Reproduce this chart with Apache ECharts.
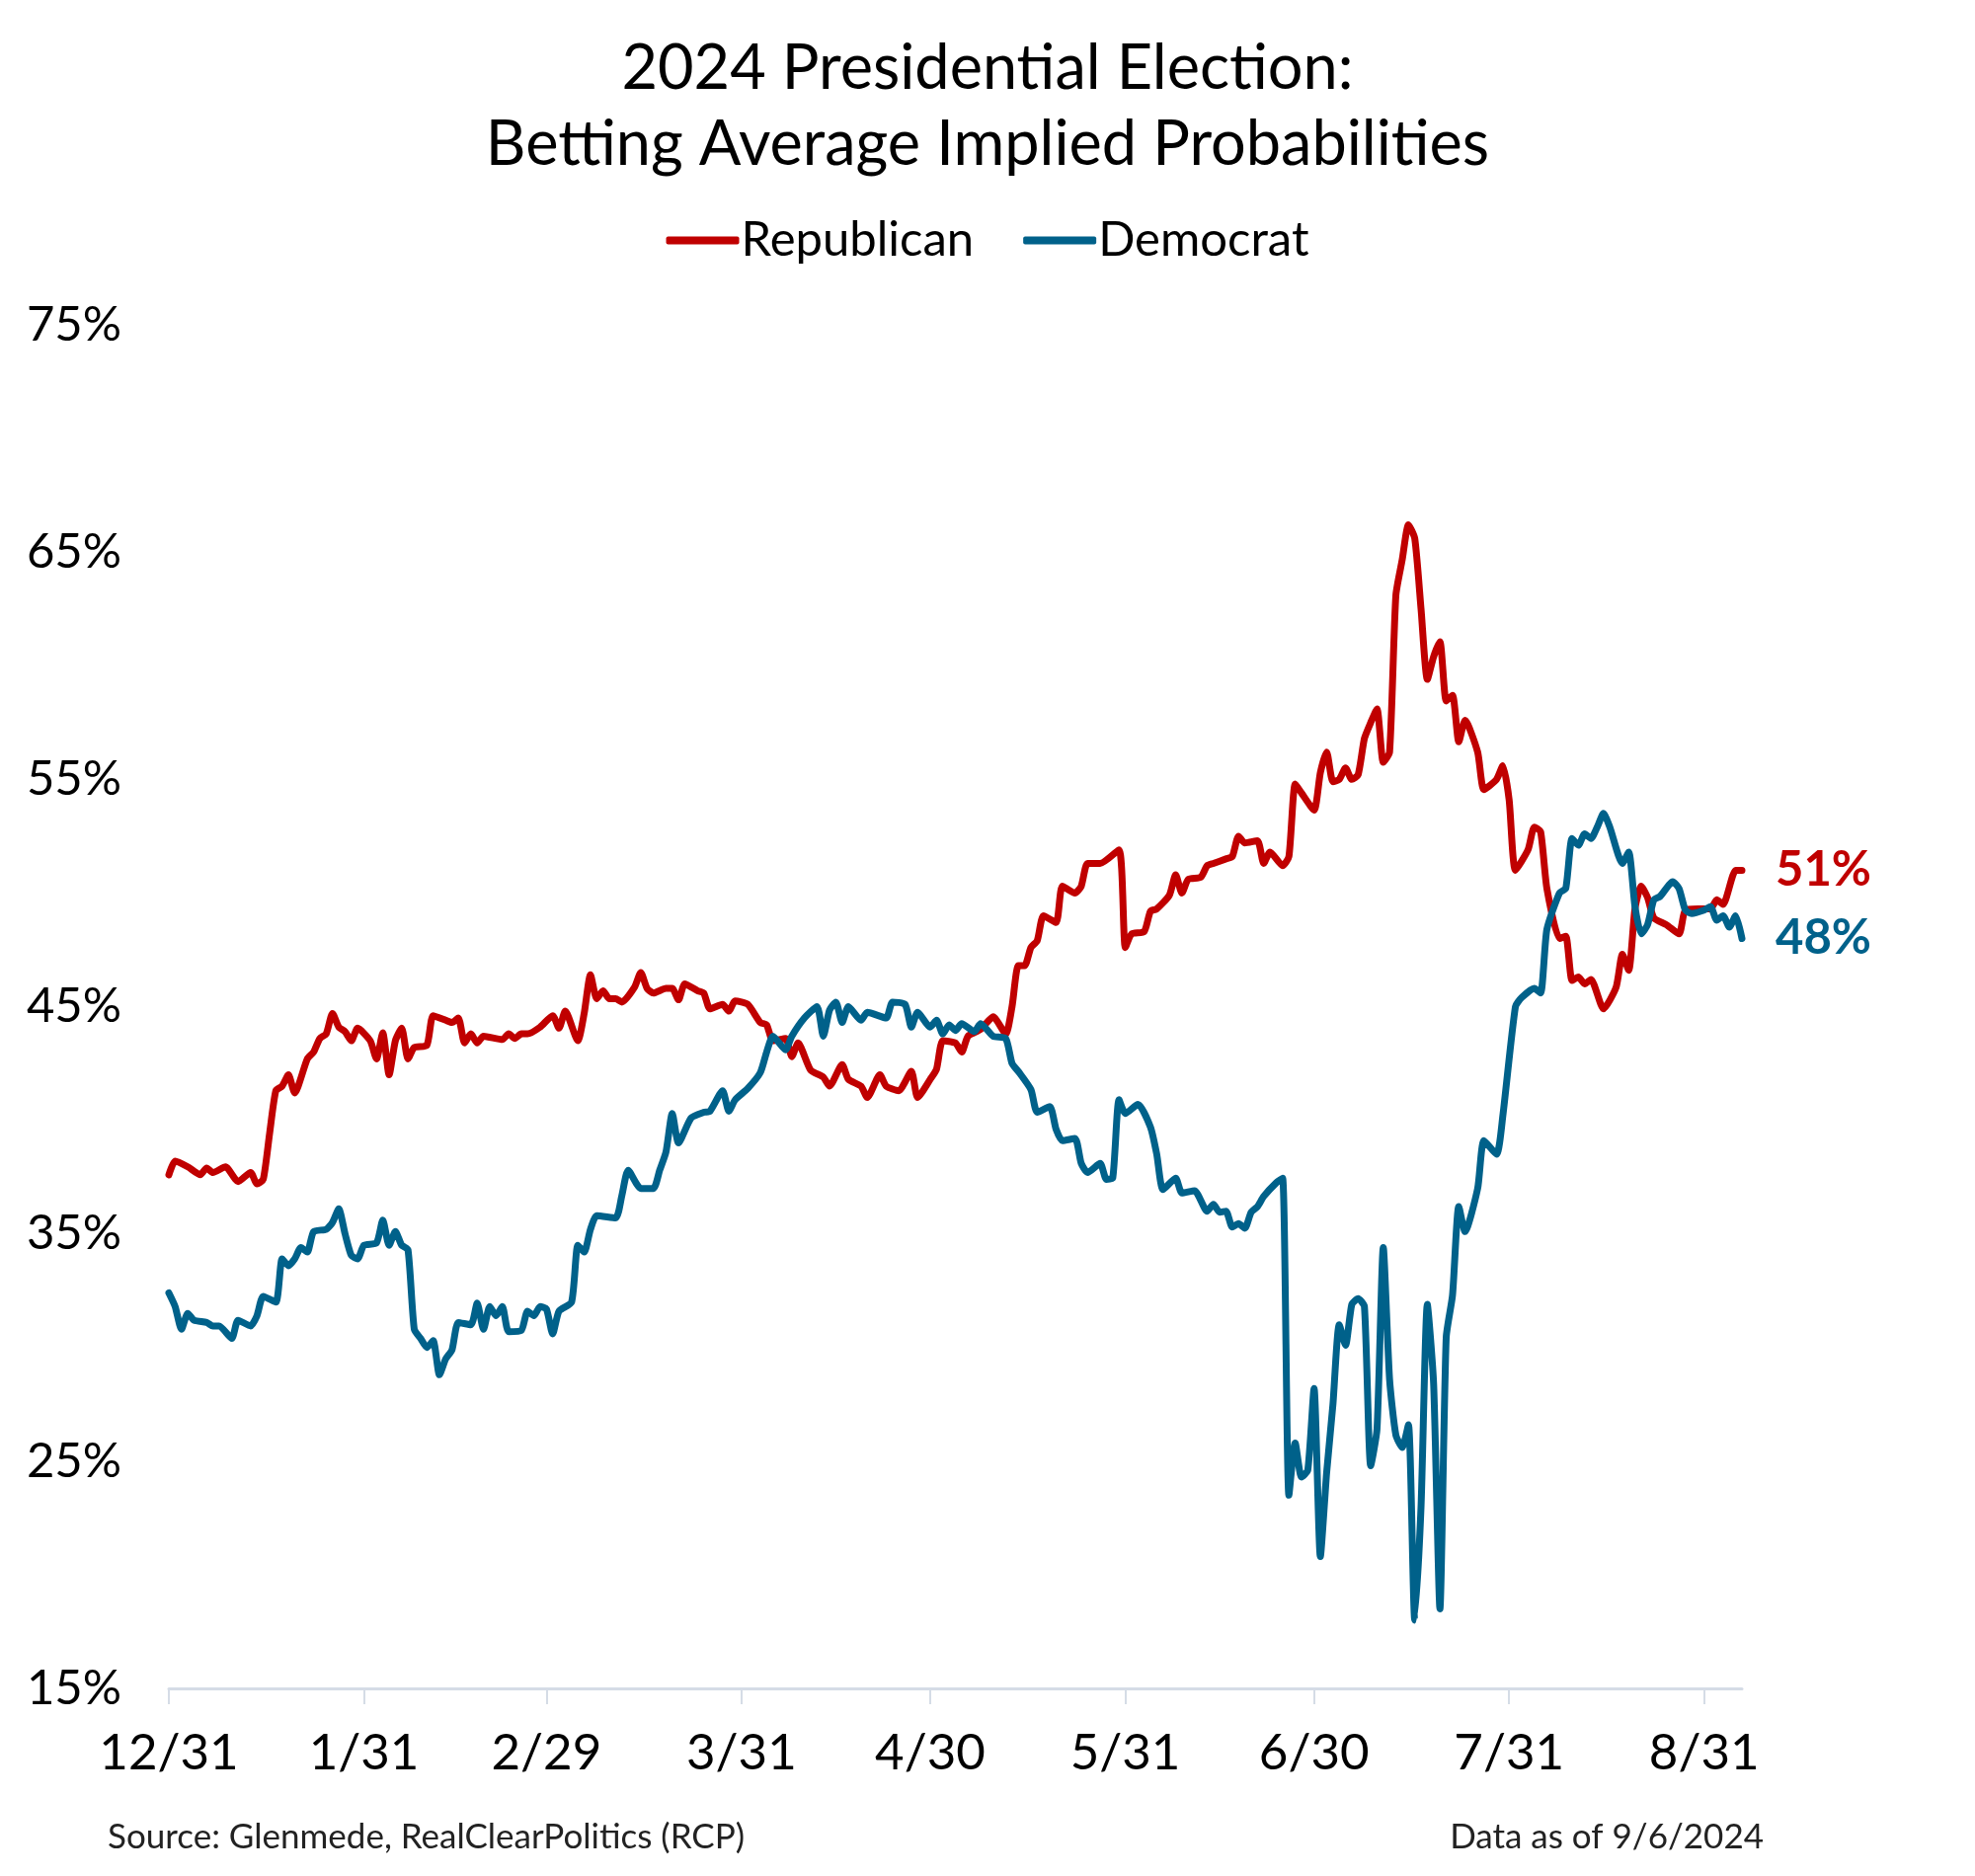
<!DOCTYPE html>
<html><head><meta charset="utf-8">
<script src="https://cdn.jsdelivr.net/npm/echarts@6/dist/echarts.min.js"></script>
<style>html,body{margin:0;padding:0;background:#fff}#c{width:2000px;height:1900px}</style>
</head><body><div id="c"></div>
<script>
// x positions are day offsets from 12/31/2023 (0 = 12/31, 250 = 9/6)
const dayCount = 251;
const tickLabels = ['12/31','1/31','2/29','3/31','4/30','5/31','6/30','7/31','8/31'];
const seriesNames = ['Republican', 'Democrat'];

const repDays = [0,1,3,5,6,7,9,11,13,14,15,16,17,18,19,20,22,23,24,25,26,27,28,29,30,32,33,34,35,36,37,38,39,41,42,44,45,46,47,48,49,50,53,54,55,56,57,59,61,62,63,65,66,67,68,69,70,71,72,74,75,76,77,79,80,81,82,84,85,86,88,89,90,92,94,95,96,98,99,100,102,104,105,107,108,110,111,113,114,116,118,119,121,122,123,125,126,127,129,131,133,134,135,136,137,138,139,141,142,144,145,146,148,151,152,153,155,156,157,159,160,161,162,164,165,166,168,169,170,171,173,174,175,177,178,179,180,182,183,184,185,186,187,188,189,190,191,192,193,194,195,196,197,198,199,200,201,202,203,204,205,206,208,209,211,212,213,214,216,217,218,219,221,222,223,224,225,226,228,230,231,232,233,234,235,236,238,240,241,243,245,246,247,249,250];
const repValues = [37.6,38.2,37.95,37.6,37.9,37.7,37.95,37.3,37.7,37.2,37.4,39.4,41.3,41.5,42.0,41.2,42.7,43.0,43.6,43.8,44.7,44.1,43.9,43.5,44.05,43.5,42.7,43.85,42.0,43.5,44.05,42.7,43.2,43.3,44.6,44.4,44.3,44.5,43.4,43.8,43.4,43.7,43.55,43.8,43.6,43.8,43.8,44.1,44.6,44.05,44.8,43.5,44.7,46.4,45.35,45.7,45.35,45.35,45.2,45.85,46.5,45.8,45.6,45.8,45.8,45.3,46.0,45.7,45.6,44.9,45.1,44.8,45.25,45.1,44.3,44.2,43.5,43.6,42.8,43.4,42.2,41.9,41.5,42.45,41.8,41.5,41.0,42.0,41.5,41.3,42.15,41.0,41.8,42.25,43.5,43.4,43.0,43.7,44.0,44.55,43.8,45.0,46.8,46.8,47.6,47.9,49.0,48.7,50.3,50.0,50.3,51.3,51.3,51.9,47.6,48.2,48.3,49.2,49.3,49.9,50.8,50.0,50.6,50.7,51.2,51.3,51.5,51.6,52.5,52.2,52.3,51.3,51.8,51.2,51.6,54.8,54.4,53.65,55.3,56.2,54.9,55.0,55.5,55.0,55.2,56.8,57.5,58.1,55.75,56.2,63.1,64.65,66.2,65.6,62.5,59.4,60.4,61.05,58.45,58.7,56.65,57.6,56.2,54.55,55.0,55.6,54.1,51.0,51.9,52.9,52.7,50.2,48.0,48.1,46.15,46.3,46.0,46.2,44.9,45.85,47.3,46.6,49.3,50.3,49.8,48.9,48.6,48.2,49.25,49.3,49.3,49.7,49.5,51.0,51.0];

const demDays = [0,1,2,3,4,6,7,8,10,11,13,14,15,17,18,19,20,21,22,23,25,26,27,28,29,30,31,33,34,35,36,37,38,39,40,41,42,43,44,45,46,48,49,50,51,52,53,54,56,57,58,59,60,61,62,64,65,66,67,68,71,72,73,75,77,78,79,80,81,83,85,86,88,89,90,92,94,95,96,98,99,101,103,104,105,106,107,108,110,111,114,115,117,118,119,121,122,123,124,125,126,128,129,131,133,134,135,137,138,140,141,142,144,145,146,148,149,150,151,152,154,156,157,158,160,161,163,165,166,167,168,169,170,171,172,173,174,176,177,178,179,180,181,182,183,184,185,186,187,188,189,190,191,192,193,194,195,196,197,198,199,200,201,202,203,204,205,206,208,209,211,212,214,215,217,218,219,221,222,223,224,225,226,227,228,229,231,232,233,234,235,236,237,239,240,241,242,244,245,246,247,248,249,250];
const demValues = [32.4,31.8,30.8,31.5,31.2,31.1,30.95,30.95,30.4,31.2,30.95,31.4,32.25,32.0,33.9,33.6,33.9,34.4,34.2,35.1,35.2,35.5,36.1,35.0,34.05,33.9,34.5,34.6,35.6,34.5,35.1,34.5,34.3,30.8,30.4,30.0,30.3,28.8,29.5,29.9,31.1,31.0,31.95,30.8,31.8,31.4,31.8,30.7,30.75,31.6,31.4,31.8,31.7,30.6,31.6,32.0,34.5,34.2,35.2,35.8,35.7,36.7,37.8,37.0,37.0,37.8,38.6,40.3,39.0,40.1,40.35,40.4,41.3,40.4,40.9,41.4,42.1,43.0,43.7,43.1,43.7,44.5,45.0,43.7,44.85,45.2,44.3,45.0,44.4,44.75,44.5,45.2,45.1,44.1,44.75,44.1,44.4,43.8,44.2,43.95,44.25,43.9,44.25,43.7,43.6,42.5,42.15,41.35,40.35,40.6,39.6,39.1,39.2,38.1,37.7,38.1,37.4,37.45,40.9,40.3,40.7,39.7,38.5,36.95,37.45,36.8,36.9,36.0,36.3,35.95,36.0,35.3,35.45,35.25,35.95,36.2,36.65,37.25,37.45,23.5,25.8,24.3,24.6,28.2,20.8,24.5,27.5,31.0,30.1,31.9,32.15,31.8,24.8,26.4,34.4,28.6,26.15,25.6,26.6,18.0,23.0,31.9,28.4,18.5,30.45,32.3,36.2,35.1,37.0,39.1,38.5,40.2,45.0,45.4,45.8,45.6,48.4,50.0,50.2,52.4,52.1,52.6,52.4,52.9,53.5,52.9,51.3,51.8,49.4,48.2,48.6,49.7,49.85,50.5,50.2,49.25,49.1,49.25,49.4,48.8,49.0,48.5,49.0,48.0];

const yMin = 15, yMax = 75, yStep = 10;
const colors = ['#C00000', '#00618A'];

// daily category labels M/D
const categories = [];
for (let d = 0; d < dayCount; d++) {
  const dt = new Date(Date.UTC(2023, 11, 31 + d));
  categories.push((dt.getUTCMonth() + 1) + '/' + dt.getUTCDate());
}
const isTick = (i, v) => tickLabels.indexOf(categories[i]) >= 0;
const zip = (xs, ys) => xs.map((x, i) => [x, ys[i]]);

const FONT = 'Lato';
const chart = echarts.init(document.getElementById('c'));
chart.setOption({
  animation: false,
  backgroundColor: '#fff',
  title: [
    { text: '2024 Presidential Election:\nBetting Average Implied Probabilities', left: 'center', top: 26,
      textStyle: { fontFamily: FONT, fontSize: 63, fontWeight: 'normal', color: '#000', lineHeight: 77 } },
    { text: 'Source: Glenmede, RealClearPolitics (RCP)', left: 104, top: 1838,
      textStyle: { fontFamily: FONT, fontSize: 35, fontWeight: 'normal', color: '#222' } },
    { text: 'Data as of 9/6/2024', right: 209, top: 1838,
      textStyle: { fontFamily: FONT, fontSize: 35, fontWeight: 'normal', color: '#222' } }
  ],
  legend: {
    data: seriesNames, top: 214, left: 'center', itemWidth: 74, itemHeight: 8, itemGap: 50,
    icon: 'roundRect',
    textStyle: { fontFamily: FONT, fontSize: 49, color: '#000', padding: [0, 0, 0, -3] }
  },
  grid: { left: 171, right: 236, top: 329, bottom: 190, containLabel: false },
  xAxis: {
    type: 'category', data: categories, boundaryGap: false,
    axisLine: { lineStyle: { color: '#D5DCE6', width: 3 } },
    axisTick: { show: true, interval: isTick, length: 16, lineStyle: { color: '#D5DCE6', width: 2 } },
    axisLabel: { interval: isTick, fontFamily: FONT, fontSize: 51, color: '#000', margin: 40 },
    splitLine: { show: false }
  },
  yAxis: {
    type: 'value', min: yMin, max: yMax, interval: yStep,
    axisLine: { show: false }, axisTick: { show: false }, splitLine: { show: false },
    axisLabel: { formatter: '{value}%', fontFamily: FONT, fontSize: 49, color: '#000', margin: 48 }
  },
  series: [
    { name: seriesNames[0], type: 'line', data: zip(repDays, repValues), showSymbol: false, smooth: 0.2,
      color: colors[0], lineStyle: { width: 7, color: colors[0], cap: 'round', join: 'round' },
      endLabel: { show: true, formatter: p => Math.round(p.value[1]) + '%', color: colors[0],
        fontFamily: FONT, fontSize: 49, fontWeight: 'bold', distance: 34 } },
    { name: seriesNames[1], type: 'line', data: zip(demDays, demValues), showSymbol: false, smooth: 0.2,
      color: colors[1], lineStyle: { width: 7, color: colors[1], cap: 'round', join: 'round' },
      endLabel: { show: true, formatter: p => Math.round(p.value[1]) + '%', color: colors[1],
        fontFamily: FONT, fontSize: 49, fontWeight: 'bold', distance: 34 } }
  ]
});
</script></body></html>
